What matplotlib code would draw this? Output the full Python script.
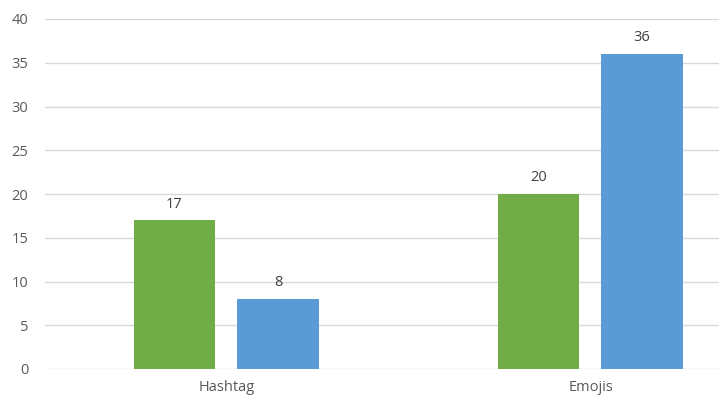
import numpy as np
import matplotlib.pyplot as plt

plt.rcParams['font.family'] = ['Open Sans', 'DejaVu Sans']

categories = ['Hashtag', 'Emojis']
green_vals = [17, 20]
blue_vals = [8, 36]

green = '#70AD47'
blue = '#5B9BD5'
text_col = '#595959'

fig = plt.figure(figsize=(7.19, 4.01), dpi=100)
ax = fig.add_axes([45/719, 32/401, (719-45)/719, 350/401])

x = np.arange(len(categories))
w = 0.223
b1 = ax.bar(x - 0.143, green_vals, w, color=green, zorder=3)
b2 = ax.bar(x + 0.1415, blue_vals, w, color=blue, zorder=3)

for bars in (b1, b2):
    for r in bars:
        ax.text(r.get_x() + r.get_width()/2, r.get_height() + 1.0, str(int(r.get_height())),
                ha='center', va='bottom', fontsize=10.5, color='#404040')

ax.set_xlim(-0.4986, 1.353)
ax.set_ylim(0, 40)
ax.set_yticks(range(0, 41, 5))
ax.set_xticks(x)
ax.set_xticklabels(categories)
ax.grid(axis='y', color='#D9D9D9', linewidth=1, zorder=0)
for s in ax.spines.values():
    s.set_visible(False)
ax.tick_params(axis='both', length=0, colors=text_col, labelsize=10.5)
ax.tick_params(axis='y', pad=12)
ax.tick_params(axis='x', pad=8)

fig.savefig('out.png', dpi=100)
